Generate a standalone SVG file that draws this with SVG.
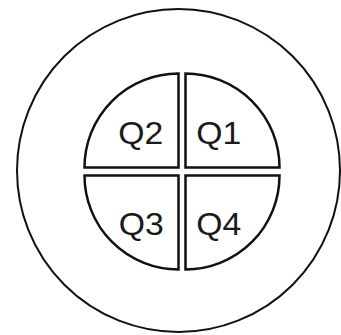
<svg xmlns="http://www.w3.org/2000/svg" width="341" height="335" viewBox="0 0 341 335">
<style>
.q{fill:#fff;stroke:#111;stroke-width:2.5;stroke-linejoin:miter}
.t{font-family:"Liberation Sans",Arial,sans-serif;font-size:30.5px;fill:#1a1a1a}
</style>
<rect width="341" height="335" fill="#fff"/>
<g id="outer"><circle cx="178.5" cy="170.5" r="161.5" fill="none" stroke="#111" stroke-width="2"/></g>
<g id="q1"><path class="q" d="M185.5,167.5 V73.5 A94,94 0 0 1 279.5,167.5 Z"/><text class="t" x="196.3" y="143.5" textLength="45" lengthAdjust="spacingAndGlyphs">Q1</text></g>
<g id="q2"><path class="q" d="M178.5,167.5 V73.5 A94,94 0 0 0 84.5,167.5 Z"/><text class="t" x="118.3" y="143.5" textLength="45" lengthAdjust="spacingAndGlyphs">Q2</text></g>
<g id="q3"><path class="q" d="M178.5,175.5 V269.5 A94,94 0 0 1 84.5,175.5 Z"/><text class="t" x="118.8" y="235" textLength="45" lengthAdjust="spacingAndGlyphs">Q3</text></g>
<g id="q4"><path class="q" d="M185.5,175.5 V269.5 A94,94 0 0 0 279.5,175.5 Z"/><text class="t" x="196.3" y="235" textLength="45" lengthAdjust="spacingAndGlyphs">Q4</text></g>
</svg>
